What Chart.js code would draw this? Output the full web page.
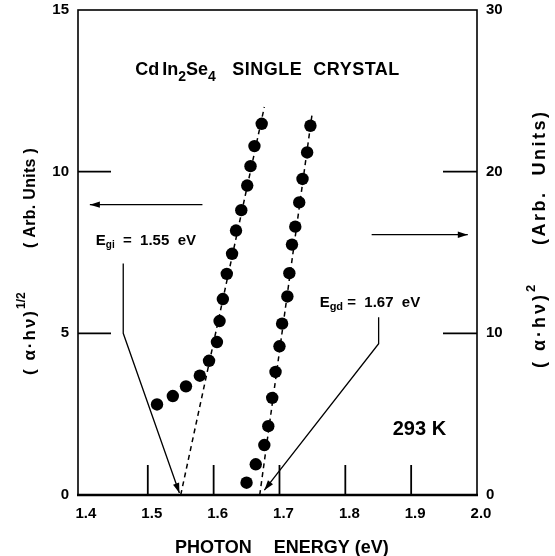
<!DOCTYPE html>
<html>
<head>
<meta charset="utf-8">
<script src="https://cdn.jsdelivr.net/npm/chart.js@4.4.1/dist/chart.umd.min.js"></script>
<style>
  html, body { margin: 0; padding: 0; background: #fff; }
  #wrap { width: 555px; height: 556px; }
</style>
</head>
<body>
<div id="wrap"><canvas id="c" width="555" height="556"></canvas></div>
<script>
// Indirect edge: photon energy (eV) vs (α·hν)^1/2 — left axis
const indirectEnergy = [1.514, 1.538, 1.558, 1.579, 1.593, 1.605, 1.609, 1.614, 1.620, 1.628, 1.634, 1.642, 1.651, 1.656, 1.662, 1.673];
const indirectValue  = [2.80, 3.06, 3.36, 3.69, 4.15, 4.73, 5.38, 6.06, 6.84, 7.46, 8.18, 8.81, 9.57, 10.17, 10.79, 11.48];

// Direct edge: photon energy (eV) vs (α·hν)^2 — right axis
const directEnergy = [1.650, 1.664, 1.677, 1.683, 1.689, 1.694, 1.700, 1.704, 1.712, 1.715, 1.719, 1.724, 1.730, 1.735, 1.742, 1.747];
const directValue  = [0.76, 1.90, 3.09, 4.26, 6.01, 7.61, 9.20, 10.60, 12.28, 13.72, 15.49, 16.60, 18.10, 19.55, 21.19, 22.84];

// Straight-line fits, extrapolated down to zero absorption
const indirectFitEnergy = [1.55, 1.677];
const indirectFitValue  = [0, 12.0];
const directFitEnergy   = [1.67, 1.750];
const directFitValue    = [0, 23.7];

// Axis ticks
const energyTicks = [1.4, 1.5, 1.6, 1.7, 1.8, 1.9, 2.0];
const leftTicks   = [0, 5, 10, 15];
const rightTicks  = [0, 10, 20, 30];

// Annotation geometry in data units (energy, left-axis value)
const notes = {
  leftPointer:  [[1.583, 8.98], [1.412, 8.98]],
  rightPointer: [[1.840, 8.05], [1.986, 8.05]],
  egiLeader:    [[1.4627, 7.16], [1.4627, 5.0], [1.548, 0.06]],
  egdLeader:    [[1.8506, 5.50], [1.8506, 4.68], [1.677, 0.15]],
  egiLabel:     [1.421, 7.72],
  egdLabel:     [1.761, 5.82],
  tempLabel:    [1.872, 1.85],
  titleLabel:   [1.481, 13.0]
};

const FONT = '"Liberation Sans", Arial, sans-serif';
const pts = (xs, ys) => xs.map((x, i) => ({ x: x, y: ys[i] }));

function arrowHead(ctx, x0, y0, x1, y1, len, w) {
  const a = Math.atan2(y1 - y0, x1 - x0);
  const c = Math.cos(a), s = Math.sin(a);
  ctx.beginPath();
  ctx.moveTo(x1, y1);
  ctx.lineTo(x1 - len * c + w * s, y1 - len * s - w * c);
  ctx.lineTo(x1 - len * c - w * s, y1 - len * s + w * c);
  ctx.closePath();
  ctx.fill();
}

// draw a row of text runs (size, vertical shift, letter spacing) from x on baseline y
function runs(ctx, x, y, parts) {
  let cx = x;
  for (const p of parts) {
    ctx.font = 'bold ' + p.size + 'px ' + FONT;
    ctx.letterSpacing = (p.ls || 0) + 'px';
    ctx.fillText(p.t, cx, y + (p.dy || 0));
    cx += ctx.measureText(p.t).width + (p.gap || 0);
  }
  ctx.letterSpacing = '0px';
  return cx - x;
}

const decorations = {
  id: 'decorations',
  afterDatasetsDraw(chart) {
    const ctx = chart.ctx;
    const xs = chart.scales.x, yl = chart.scales.y, yr = chart.scales.y2;
    const { left, top, right, bottom } = chart.chartArea;
    const P = (p) => [xs.getPixelForValue(p[0]), yl.getPixelForValue(p[1])];

    ctx.save();
    ctx.strokeStyle = '#000';
    ctx.fillStyle = '#000';
    ctx.lineCap = 'butt';

    // frame
    ctx.lineWidth = 1.6;
    ctx.strokeRect(left, top, right - left, bottom - top);
    ctx.lineWidth = 2.6;
    ctx.beginPath(); ctx.moveTo(left - 1, bottom); ctx.lineTo(right + 1, bottom); ctx.stroke();

    // inward tick marks
    ctx.lineWidth = 1.8;
    energyTicks.slice(1, -1).forEach(v => {
      const px = xs.getPixelForValue(v);
      ctx.beginPath(); ctx.moveTo(px, bottom); ctx.lineTo(px, bottom - 30); ctx.stroke();
    });
    leftTicks.slice(1, -1).forEach(v => {
      const py = yl.getPixelForValue(v);
      ctx.beginPath(); ctx.moveTo(left, py); ctx.lineTo(left + 33, py); ctx.stroke();
    });
    rightTicks.slice(1, -1).forEach(v => {
      const py = yr.getPixelForValue(v);
      ctx.beginPath(); ctx.moveTo(right, py); ctx.lineTo(right - 34, py); ctx.stroke();
    });

    // pointers and leaders
    ctx.lineWidth = 1.3;
    for (const key of ['leftPointer', 'rightPointer', 'egiLeader', 'egdLeader']) {
      const line = notes[key].map(P);
      ctx.beginPath();
      line.forEach((p, i) => i ? ctx.lineTo(p[0], p[1]) : ctx.moveTo(p[0], p[1]));
      ctx.stroke();
      const a = line[line.length - 2], b = line[line.length - 1];
      arrowHead(ctx, a[0], a[1], b[0], b[1], 10, 3.2);
    }

    // labels
    ctx.textAlign = 'left';
    ctx.textBaseline = 'alphabetic';
    let p = P(notes.titleLabel);
    runs(ctx, p[0], p[1], [
      { t: 'Cd', size: 18, gap: 3 }, { t: 'In', size: 18 },
      { t: '2', size: 14, dy: 6 }, { t: 'Se', size: 18 },
      { t: '4', size: 14, dy: 6 }, { t: '   SINGLE  CRYSTAL', size: 18, ls: 0.5 }
    ]);
    p = P(notes.egiLabel);
    runs(ctx, p[0], p[1], [
      { t: 'E', size: 15 }, { t: 'gi', size: 10, dy: 3 }, { t: '  =  1.55  eV', size: 15 }
    ]);
    p = P(notes.egdLabel);
    runs(ctx, p[0], p[1], [
      { t: 'E', size: 15 }, { t: 'gd', size: 11, dy: 3 }, { t: ' =  1.67  eV', size: 15 }
    ]);
    p = P(notes.tempLabel);
    runs(ctx, p[0], p[1], [{ t: '293 K', size: 20 }]);

    // x-axis title
    runs(ctx, 175, 553, [{ t: 'PHOTON', size: 18, gap: 22 }, { t: 'ENERGY (eV)', size: 18 }]);

    // left axis title (rotated)
    ctx.save();
    ctx.translate(35, 375);
    ctx.rotate(-Math.PI / 2);
    runs(ctx, 0, 0, [{ t: '( α·hν)', size: 17, ls: 2 }, { t: '1/2', size: 12, dy: -10 }]);
    runs(ctx, 127, 0, [{ t: '( Arb. Units )', size: 16, ls: 0.3 }]);
    ctx.restore();

    // right axis title (rotated)
    ctx.save();
    ctx.translate(545, 368);
    ctx.rotate(-Math.PI / 2);
    runs(ctx, 0, 0, [{ t: '( α·hν)', size: 18, ls: 3 }, { t: '2', size: 13, dy: -10 }]);
    runs(ctx, 123, 0, [{ t: '(Arb.  Units)', size: 18, ls: 2.5 }]);
    ctx.restore();

    ctx.restore();
  }
};

const tickFont = { family: FONT, size: 15, weight: 'bold' };
// vertical axes: no extra room reserved above/below for their end labels
const noEndPadding = s => { s.paddingTop = 0; s.paddingBottom = 0; };

new Chart(document.getElementById('c'), {
  type: 'scatter',
  data: {
    datasets: [
      {
        data: pts(indirectEnergy, indirectValue), yAxisID: 'y',
        pointRadius: 6.2, pointBackgroundColor: '#000', pointBorderWidth: 0, showLine: false
      },
      {
        data: pts(directEnergy, directValue), yAxisID: 'y2',
        pointRadius: 6.2, pointBackgroundColor: '#000', pointBorderWidth: 0, showLine: false
      },
      {
        type: 'line', data: pts(indirectFitEnergy, indirectFitValue), yAxisID: 'y',
        borderColor: '#000', borderWidth: 1.5, borderDash: [5, 4], pointRadius: 0, fill: false
      },
      {
        type: 'line', data: pts(directFitEnergy, directFitValue), yAxisID: 'y2',
        borderColor: '#000', borderWidth: 1.5, borderDash: [5, 4], pointRadius: 0, fill: false
      }
    ]
  },
  options: {
    responsive: false,
    animation: false,
    events: [],
    layout: { padding: { top: 10, left: 0, right: 0, bottom: 0 } },
    plugins: { legend: { display: false }, tooltip: { enabled: false } },
    scales: {
      x: {
        // the frame sits a few pixels outside the 1.4 tick
        type: 'linear', min: 1.394, max: energyTicks[energyTicks.length - 1],
        afterBuildTicks: s => { s.ticks = energyTicks.map(v => ({ value: v })); },
        ticks: { color: '#000', font: tickFont, padding: 10, labelOffset: 4, maxRotation: 0,
                 callback: v => Number(v).toFixed(1) },
        grid: { display: false, drawTicks: false },
        border: { display: false },
        afterFit: s => { s.height = 61; s.paddingLeft = 0; s.paddingRight = 0; }
      },
      y: {
        position: 'left', min: leftTicks[0], max: leftTicks[leftTicks.length - 1],
        afterBuildTicks: s => { s.ticks = leftTicks.map(v => ({ value: v })); },
        ticks: { color: '#000', font: tickFont, padding: 9 },
        grid: { display: false, drawTicks: false },
        border: { display: false },
        afterFit: s => { s.width = 78; noEndPadding(s); }
      },
      y2: {
        position: 'right', min: rightTicks[0], max: rightTicks[rightTicks.length - 1],
        afterBuildTicks: s => { s.ticks = rightTicks.map(v => ({ value: v })); },
        ticks: { color: '#000', font: tickFont, padding: 9 },
        grid: { display: false, drawTicks: false },
        border: { display: false },
        afterFit: s => { s.width = 78; noEndPadding(s); }
      }
    }
  },
  plugins: [decorations]
});
</script>
</body>
</html>
